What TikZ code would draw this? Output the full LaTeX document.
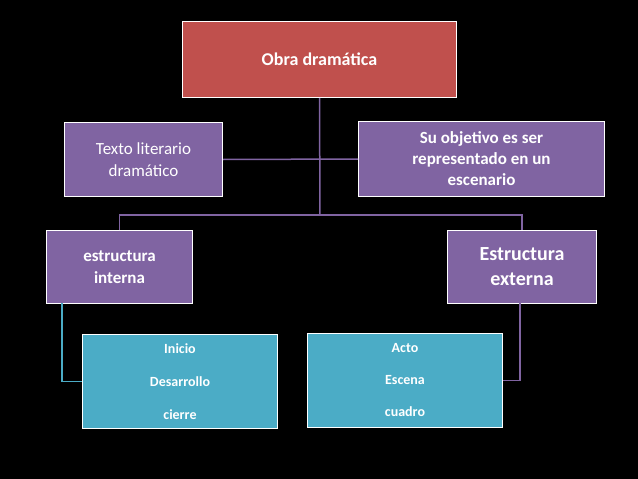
\documentclass[tikz,border=0pt]{standalone}
\usepackage{fontspec}
\setmainfont{Carlito}
\definecolor{rojo}{HTML}{C0504D}
\definecolor{morado}{HTML}{8064A2}
\definecolor{cian}{HTML}{4BACC6}
\begin{document}
\begin{tikzpicture}[x=1pt,y=-1pt,
  bx/.style={draw=white,line width=1pt,text=white,align=center,inner sep=0pt},
  ln/.style={draw=morado,line width=1.5pt},
  lc/.style={draw=cian,line width=1.5pt}]
\fill[black] (0,0) rectangle (638,479);
\useasboundingbox (0,0) rectangle (638,479);
\node[bx,fill=rojo,minimum width=274pt,minimum height=76pt,font=\bfseries\fontsize{18}{22}\selectfont,anchor=north west] (obra) at (182,21) {Obra dramática};
\node[bx,fill=morado,minimum width=158pt,minimum height=74pt,font=\fontsize{17}{22}\selectfont,anchor=north west] (texto) at (64,122) {Texto literario\\dramático};
\node[bx,fill=morado,minimum width=246pt,minimum height=75pt,font=\bfseries\fontsize{17}{21}\selectfont,anchor=north west] (obj) at (358,121) {Su objetivo es ser\\representado en un\\escenario};
\node[bx,fill=morado,minimum width=146pt,minimum height=73pt,font=\bfseries\fontsize{17}{22}\selectfont,anchor=north west] (int) at (46,230) {estructura\\interna};
\node[bx,fill=morado,minimum width=149pt,minimum height=73pt,font=\bfseries\fontsize{20}{25}\selectfont,anchor=north west] (ext) at (447,230) {Estructura\\externa};
\node[bx,fill=cian,minimum width=195pt,minimum height=94pt,font=\bfseries\fontsize{14}{33}\selectfont,anchor=north west] (ini) at (82,334) {Inicio\\Desarrollo\\cierre};
\node[bx,fill=cian,minimum width=195pt,minimum height=94pt,font=\bfseries\fontsize{14}{32}\selectfont,anchor=north west] (acto) at (307,333) {Acto\\Escena\\cuadro};
\coordinate (m1) at (320,160);
\coordinate (m2) at (320,215);
\draw[ln] (obra.south) -- (m2);
\draw[ln] (texto.east) -- (obj.west);
\draw[ln] (int.north) |- (m2) -| (ext.north);
\draw[lc] (62,303) |- (ini.west);
\draw[ln] (520,303) |- (acto.east);
\end{tikzpicture}
\end{document}
